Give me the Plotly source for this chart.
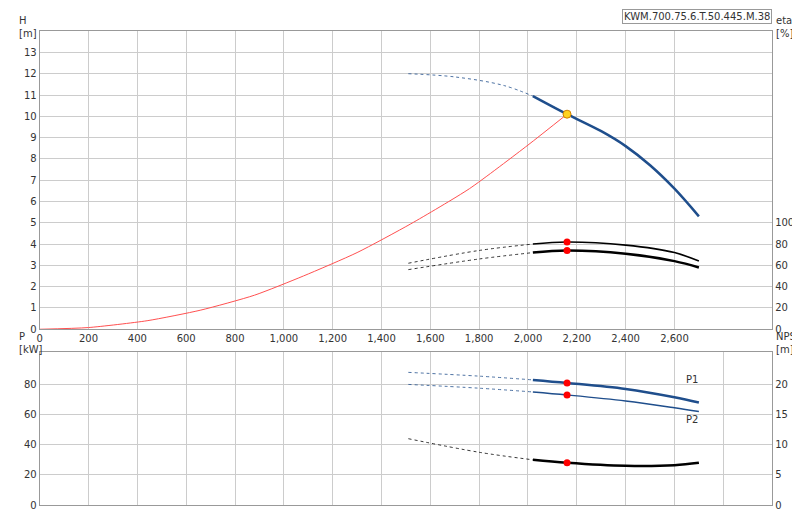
import plotly.graph_objects as go

# pump curve H(Q)
q_h = [1510, 1700, 1900, 2020, 2160, 2300, 2400, 2500, 2600, 2700]
h = [12.0, 11.85, 11.45, 10.95, 10.1, 9.3, 8.6, 7.7, 6.6, 5.3]
# system curve
q_sys = [0, 200, 440, 660, 880, 1080, 1300, 1520, 1760, 2000, 2160]
h_sys = [0, 0.08, 0.4, 0.9, 1.6, 2.5, 3.6, 4.95, 6.6, 8.65, 10.1]
# efficiencies
q_e = [1510, 1800, 2020, 2160, 2400, 2600, 2700]
eta1 = [62, 74, 80, 82, 79, 72, 64]
eta2 = [56, 66, 72, 74, 71, 64, 58]
# power and npsh
q_p = [1510, 1800, 2020, 2160, 2400, 2600, 2700]
p1 = [88, 85.5, 83, 81, 77, 71.5, 68]
p2 = [80, 77.5, 75, 73, 69, 64.5, 62]
npsh = [11, 8.75, 7.5, 7, 6.5, 6.6, 7]
q_op = 2160

fig = go.Figure()

def add(x, y, color, width, xa, ya, split):
    fig.add_trace(go.Scatter(x=x[:split + 1], y=y[:split + 1], mode="lines", xaxis=xa, yaxis=ya,
                             line=dict(color=color, width=0.8, dash="dot", shape="spline")))
    fig.add_trace(go.Scatter(x=x[split:], y=y[split:], mode="lines", xaxis=xa, yaxis=ya,
                             line=dict(color=color, width=width, shape="spline")))

add(q_h, h, "#1f4e8c", 2.5, "x", "y", 3)
fig.add_trace(go.Scatter(x=q_sys, y=h_sys, mode="lines", line=dict(color="#ff5050", width=1, shape="spline", smoothing=0.6)))
add(q_e, eta1, "black", 1.6, "x", "y2", 2)
add(q_e, eta2, "black", 2.5, "x", "y2", 2)
add(q_p, p1, "#1f4e8c", 2.5, "x3", "y3", 2)
add(q_p, p2, "#1f4e8c", 1.4, "x3", "y3", 2)
add(q_p, npsh, "black", 2.5, "x3", "y4", 2)

fig.add_trace(go.Scatter(x=[q_op], y=[h[4]], mode="markers",
                         marker=dict(color="#ffd21f", size=8, line=dict(color="#d08000", width=1))))
fig.add_trace(go.Scatter(x=[q_op, q_op], y=[eta1[3], eta2[3]], mode="markers", xaxis="x", yaxis="y2",
                         marker=dict(color="red", size=7)))
fig.add_trace(go.Scatter(x=[q_op, q_op], y=[p1[3], p2[3]], mode="markers", xaxis="x3", yaxis="y3",
                         marker=dict(color="red", size=7)))
fig.add_trace(go.Scatter(x=[q_op], y=[npsh[3]], mode="markers", xaxis="x3", yaxis="y4",
                         marker=dict(color="red", size=7)))

ax = dict(showgrid=True, gridcolor="#cccccc", gridwidth=1, zeroline=False, showline=True,
          linecolor="#999999", mirror=True, ticks="", tickfont=dict(size=10, color="#333"))
dom = [0.036, 0.955]
fig.update_layout(
    width=800, height=520, margin=dict(l=0, r=0, t=0, b=0), showlegend=False,
    plot_bgcolor="white", paper_bgcolor="white", font=dict(family="DejaVu Sans", size=10),
    xaxis=dict(ax, domain=dom, range=[0, 3000], tickformat=",", anchor="y",
               tickvals=list(range(0, 2800, 200))),
    yaxis=dict(ax, domain=[0.375, 0.955], range=[0, 14], tickvals=list(range(0, 14))),
    yaxis2=dict(ax, overlaying="y", side="right", range=[0, 280], tickvals=[0, 20, 40, 60, 80, 100],
                showgrid=False, anchor="x"),
    xaxis3=dict(ax, domain=dom, range=[0, 3000], tickvals=list(range(0, 3000, 200)),
                showticklabels=False, anchor="y3"),
    yaxis3=dict(ax, domain=[0.033, 0.331], range=[0, 101.6], tickvals=[0, 20, 40, 60, 80], anchor="x3"),
    yaxis4=dict(ax, overlaying="y3", side="right", range=[0, 25.4], tickvals=[0, 5, 10, 15, 20],
                showgrid=False, anchor="x3"),
)

def note(text, x, y, xa="paper", ya="paper", anchor="left"):
    fig.add_annotation(text=text, x=x, y=y, xref=xa, yref=ya, showarrow=False,
                       xanchor=anchor, yanchor="top", align=anchor, font=dict(size=10, color="#333"))

note("H<br>[m]", 0.008, 0.99)
note("eta<br>[%]", 0.957, 0.99)
note("P<br>[kW]", 0.008, 0.325 + 0.05)
note("NPSH<br>[m]", 0.957, 0.325 + 0.05)
note("Q [m³/h]", 2700, -0.15, "x", "y")
note("P1", 2640, 88, "x3", "y3")
note("P2", 2640, 62, "x3", "y3")
fig.add_annotation(text="KWM.700.75.6.T.50.445.M.38", x=0.955, y=0.999, xref="paper", yref="paper",
                   showarrow=False, xanchor="right", yanchor="top", font=dict(size=10, color="#333"),
                   bordercolor="#999999", borderwidth=1, bgcolor="white", borderpad=1)

fig.write_html("out.html")
